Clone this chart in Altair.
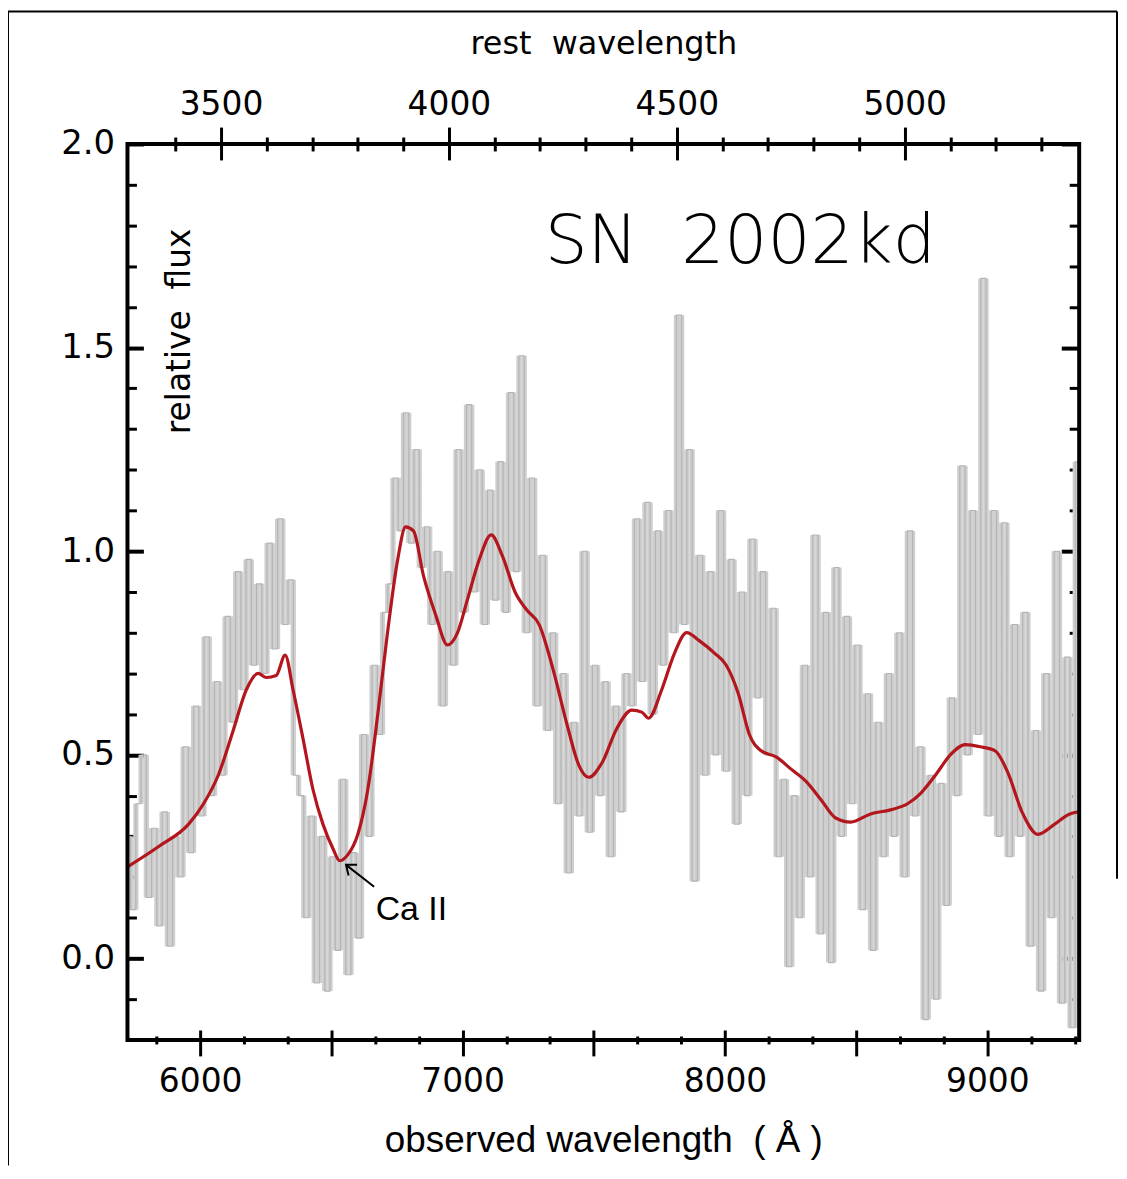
import altair as alt
import pandas as pd

# ---------------- data ----------------
Z = 1.737  # observed / rest
X_DOMAIN = [5723, 9350]
REST_DOMAIN = [X_DOMAIN[0] / Z, X_DOMAIN[1] / Z]
Y_DOMAIN = [-0.2, 2.0]

# observed spectrum (grey), uniformly sampled
gray_start = 5725
gray_step = 20
gray_flux = [
    0.30, 0.12, 0.38, 0.50, 0.15, 0.32, 0.08, 0.36, 0.03, 0.30,
    0.20, 0.52, 0.26, 0.62, 0.35, 0.79, 0.40, 0.68, 0.45, 0.84,
    0.58, 0.95, 0.66, 0.98, 0.72, 0.92, 0.70, 1.02, 0.76, 1.08,
    0.82, 0.93, 0.45, 0.40, 0.10, 0.35, -0.06, 0.30, -0.08, 0.25,
    0.02, 0.44, -0.04, 0.26, 0.05, 0.55, 0.30, 0.72, 0.55, 0.85,
    0.92, 1.18, 1.05, 1.34, 1.02, 1.25, 0.96, 1.06, 0.82, 1.00,
    0.62, 0.95, 0.72, 1.25, 0.85, 1.36, 0.90, 1.20, 0.82, 1.15,
    0.88, 1.22, 0.85, 1.39, 0.95, 1.48, 0.80, 1.18, 0.62, 0.99,
    0.56, 0.80, 0.38, 0.70, 0.21, 0.58, 0.35, 1.00, 0.31, 0.72,
    0.40, 0.68, 0.25, 0.62, 0.36, 0.70, 0.62, 1.08, 0.68, 1.12,
    0.60, 1.05, 0.72, 1.10, 0.80, 1.58, 0.82, 1.25, 0.19, 0.99,
    0.45, 0.95, 0.50, 1.10, 0.46, 0.98, 0.33, 0.90, 0.40, 1.03,
    0.64, 0.95, 0.50, 0.86, 0.25, 0.44, -0.02, 0.40, 0.10, 0.72,
    0.20, 1.04, 0.06, 0.85, -0.01, 0.96, 0.30, 0.84, 0.38, 0.77,
    0.12, 0.65, 0.02, 0.58, 0.25, 0.70, 0.30, 0.80, 0.20, 1.05,
    0.35, 0.52, -0.15, 0.45, -0.10, 0.43, 0.13, 0.64, 0.40, 1.21,
    0.50, 1.10, 0.55, 1.67, 0.35, 1.10, 0.30, 1.07, 0.25, 0.82,
    0.30, 0.85, 0.03, 0.56, -0.08, 0.70, 0.10, 1.00, -0.11, 0.74,
    -0.17, 1.22,
]
gray_wave = [gray_start + gray_step * i for i in range(len(gray_flux))]

# smoothed spectrum (red)
red_wave = [5723, 5842, 5956, 6013, 6069, 6126, 6176, 6221, 6252, 6290,
            6324, 6354, 6392, 6430, 6468, 6506, 6532, 6563, 6601, 6639,
            6677, 6715, 6753, 6783, 6813, 6851, 6897, 6943, 6981, 7018,
            7064, 7109, 7151, 7200, 7246, 7292, 7345, 7398, 7443, 7481,
            7531, 7588, 7645, 7683, 7709, 7759, 7808, 7854, 7903, 7960,
            8005, 8051, 8093, 8138, 8195, 8252, 8309, 8366, 8422, 8479,
            8555, 8631, 8696, 8745, 8802, 8859, 8916, 8973, 9030, 9079,
            9132, 9193, 9257, 9314, 9350]
red_flux = [0.225, 0.275, 0.33, 0.38, 0.45, 0.56, 0.66, 0.70, 0.69, 0.695,
            0.745, 0.66, 0.54, 0.415, 0.33, 0.27, 0.24, 0.255, 0.305, 0.415,
            0.60, 0.805, 0.98, 1.06, 1.05, 0.94, 0.845, 0.77, 0.80, 0.88,
            0.98, 1.04, 0.99, 0.90, 0.855, 0.82, 0.71, 0.575, 0.475, 0.445,
            0.48, 0.565, 0.61, 0.605, 0.59, 0.66, 0.75, 0.80, 0.78, 0.75,
            0.72, 0.65, 0.55, 0.51, 0.495, 0.465, 0.435, 0.39, 0.345, 0.335,
            0.355, 0.365, 0.38, 0.405, 0.45, 0.50, 0.525, 0.52, 0.51, 0.455,
            0.36, 0.305, 0.33, 0.355, 0.36]

# tick values
obs_major = [6000, 6500, 7000, 7500, 8000, 8500, 9000]
obs_minor = [5833.3, 6166.7, 6333.3, 6666.7, 6833.3, 7166.7, 7333.3, 7666.7,
             7833.3, 8166.7, 8333.3, 8666.7, 8833.3, 9166.7, 9333.3]
rest_major = [3500, 4000, 4500, 5000]
rest_minor = [3400, 3600, 3700, 3800, 3900, 4100, 4200, 4300, 4400,
              4600, 4700, 4800, 4900, 5100, 5200, 5300]
flux_major = [0.0, 0.5, 1.0, 1.5, 2.0]
flux_minor = [-0.1, 0.1, 0.2, 0.3, 0.4, 0.6, 0.7, 0.8, 0.9,
              1.1, 1.2, 1.3, 1.4, 1.6, 1.7, 1.8, 1.9]

# annotations
title_text = ["SN\u00a0 2002kd"]
title_wave = [8058]
title_flux = [1.707]
ylabel_text = ["relative\u00a0 flux"]
ylabel_wave = [5963]
ylabel_flux = [1.54]
line_text = ["Ca II"]
line_wave = [6669]
line_flux = [0.095]
arrow_wave = [6663, 6556]
arrow_flux = [0.176, 0.23]

# ---------------- styles ----------------
FONT = "DejaVu Sans"
xs = alt.Scale(domain=X_DOMAIN, nice=False, zero=False)
rs = alt.Scale(domain=REST_DOMAIN, nice=False, zero=False)
ys = alt.Scale(domain=Y_DOMAIN, nice=False, zero=False)

common = dict(grid=False, domain=False, tickColor="black", labelColor="black",
              labelFlush=False, labelOverlap=False)

ax_bottom = alt.Axis(orient="bottom", values=obs_major,
                     labelExpr="datum.value % 1000 == 0 ? format(datum.value, 'd') : ''",
                     tickSize=26, offset=-10, tickWidth=3,
                     labelFont=FONT, labelFontSize=33, labelPadding=10,
                     title="observed wavelength\u00a0 (\u00a0Å\u00a0)",
                     titleFont="Liberation Sans", titleFontSize=37,
                     titleFontWeight="normal", titleColor="black", titlePadding=24,
                     **common)
ax_bottom_minor = alt.Axis(orient="bottom", values=obs_minor, labels=False,
                           tickSize=8, offset=-4, tickWidth=3, title=None, **common)
ax_top = alt.Axis(orient="top", values=rest_major, format="d",
                  tickSize=33, offset=-16, tickWidth=3,
                  labelFont=FONT, labelFontSize=33, labelPadding=6,
                  title="rest\u00a0 wavelength", titleFont=FONT, titleFontSize=32,
                  titleFontWeight="normal", titleColor="black", titlePadding=28,
                  **common)
ax_top_minor = alt.Axis(orient="top", values=rest_minor, labels=False,
                        tickSize=14, offset=-7, tickWidth=3, title=None, **common)
ax_left = alt.Axis(orient="left", values=flux_major, format=".1f",
                   tickSize=16, offset=-16, tickWidth=4,
                   labelFont=FONT, labelFontSize=34, labelPadding=13,
                   title=None, **common)
ax_left_minor = alt.Axis(orient="left", values=flux_minor, labels=False,
                         tickSize=9, offset=-9, tickWidth=3, title=None, **common)
ax_right = alt.Axis(orient="right", values=flux_major, labels=False,
                    tickSize=18, offset=-18, tickWidth=4, title=None, **common)
ax_right_minor = alt.Axis(orient="right", values=flux_minor, labels=False,
                          tickSize=10, offset=-10, tickWidth=3, title=None, **common)

def X(field, axis=None, scale=xs):
    return alt.X(field, type="quantitative", scale=scale, axis=axis)

def Y(field, axis=None):
    return alt.Y(field, type="quantitative", scale=ys, axis=axis)

# ---------------- layers ----------------
dummy = pd.DataFrame({"k": [0]})
frame_left = alt.Chart(dummy).mark_rule(color="black", strokeWidth=2).encode(
    x=alt.value(-120), y=alt.value(-133), y2=alt.value(1026))
frame_top = alt.Chart(dummy).mark_rule(color="black", strokeWidth=2).encode(
    x=alt.value(-120), x2=alt.value(994), y=alt.value(-133))
frame_right = alt.Chart(dummy).mark_rule(color="black", strokeWidth=2).encode(
    x=alt.value(994), y=alt.value(-133), y2=alt.value(738))
plot_frame = alt.Chart(dummy).mark_rect(fill=None, stroke="black", strokeWidth=4).encode(
    x=alt.value(0), x2=alt.value(956), y=alt.value(0), y2=alt.value(900))

# grey spectrum: filled band between neighbouring samples + step outline
gray_df = pd.DataFrame({"wave": gray_wave, "flux": gray_flux})
band_df = pd.DataFrame({
    "w0": gray_wave[:-1],
    "w1": gray_wave[1:],
    "lo": [min(a, b) for a, b in zip(gray_flux[:-1], gray_flux[1:])],
    "hi": [max(a, b) for a, b in zip(gray_flux[:-1], gray_flux[1:])],
})
gray_band = alt.Chart(band_df).mark_rect(color="#cfcfcf").encode(
    x=X("w0", ax_bottom), x2="w1", y=Y("lo", ax_left), y2="hi")
gray = alt.Chart(gray_df).mark_line(interpolate="step", color="#b4b4b4",
                                    strokeWidth=1.1).encode(
    x=X("wave"), y=Y("flux"))

red_df = pd.DataFrame({"wave": red_wave, "flux": red_flux})
red = alt.Chart(red_df).mark_line(interpolate="monotone", color="#b3161c",
                                  strokeWidth=3.2).encode(
    x=X("wave", ax_bottom_minor), y=Y("flux", ax_left_minor))

top_major_df = pd.DataFrame({"rest": rest_major, "flux": [1.0] * len(rest_major)})
top_major = alt.Chart(top_major_df).mark_point(opacity=0).encode(
    x=X("rest", ax_top, rs), y=Y("flux", ax_right))
top_minor_df = pd.DataFrame({"rest": rest_minor, "flux": [1.0] * len(rest_minor)})
top_minor = alt.Chart(top_minor_df).mark_point(opacity=0).encode(
    x=X("rest", ax_top_minor, rs), y=Y("flux", ax_right_minor))

sn = alt.Chart(pd.DataFrame({"wave": title_wave, "flux": title_flux, "t": title_text})).mark_text(
    font=FONT, fontSize=68, fontWeight=200, align="center", baseline="alphabetic",
    color="black").encode(x=X("wave"), y=Y("flux"), text="t:N")

ylab = alt.Chart(pd.DataFrame({"wave": ylabel_wave, "flux": ylabel_flux, "t": ylabel_text})).mark_text(
    font=FONT, fontSize=33, angle=270, align="center", baseline="alphabetic",
    color="black").encode(x=X("wave"), y=Y("flux"), text="t:N")

ca = alt.Chart(pd.DataFrame({"wave": line_wave, "flux": line_flux, "t": line_text})).mark_text(
    font="Liberation Sans", fontSize=34, align="left", baseline="alphabetic",
    color="black").encode(x=X("wave"), y=Y("flux"), text="t:N")

arrow_df = pd.DataFrame({"wave": arrow_wave, "flux": arrow_flux, "o": [0, 1]})
arrow_line = alt.Chart(arrow_df).mark_line(color="black", strokeWidth=2).encode(
    x=X("wave"), y=Y("flux"), order="o:Q")
arrow_head = alt.Chart(arrow_df.iloc[[1]]).mark_point(
    shape="M-0.8,1L0,0L0.8,1", size=300, angle=308, filled=False,
    stroke="black", strokeWidth=2, opacity=1).encode(x=X("wave"), y=Y("flux"))

chart = alt.layer(
    frame_left, frame_top, frame_right,
    gray_band, gray, red, top_major, top_minor,
    sn, ylab, ca, arrow_line, arrow_head, plot_frame,
).resolve_scale(x="independent", y="independent").resolve_axis(
    x="independent", y="independent"
).properties(
    width=956, height=900,
    background="white",
    autosize=alt.AutoSizeParams(type="none"),
    padding={"left": 120, "top": 134, "right": 40, "bottom": 125},
).configure_view(stroke=None)

chart.save("out.html", embed_options={"renderer": "svg", "actions": False})
